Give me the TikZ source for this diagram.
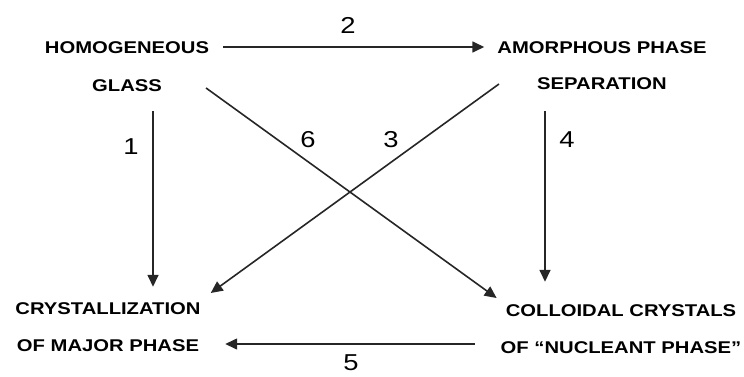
\documentclass[tikz,border=0pt]{standalone}
\usepackage{fontspec}
\setmainfont{Liberation Sans}[FakeStretch=1.19]
\usetikzlibrary{arrows.meta,calc}
\begin{document}
\begin{tikzpicture}[x=1pt,y=1pt,
  lbl/.style={inner sep=0pt,font=\fontsize{17}{20}\selectfont\bfseries},
  num/.style={inner sep=0pt,font=\fontsize{23}{26}\selectfont},
  arr/.style={line width=1.6pt,draw=black!85,-{Triangle[length=12pt,width=11pt]}}]
\useasboundingbox (0,0) rectangle (744,376);
% nodes
\node[lbl] (hgA) at (127,328) {HOMOGENEOUS};
\node[lbl] (hgB) at (127,290) {GLASS};
\node[lbl] (apA) at (602,328) {AMORPHOUS PHASE};
\node[lbl] (apB) at (602,292) {SEPARATION};
\node[lbl] (crA) at (108,67) {CRYSTALLIZATION};
\node[lbl] (crB) at (108,30) {OF MAJOR PHASE};
\node[lbl] (coA) at (621,65) {COLLOIDAL CRYSTALS};
\node[lbl] (coB) at (621,28) {OF ``NUCLEANT PHASE''};
% labels
\node[num] (n1) at (131,229) {1};
\node[num] (n2) at (348,351) {2};
\node[num] (n3) at (391,236) {3};
\node[num] (n4) at (567,236) {4};
\node[num] (n5) at (351,13) {5};
\node[num] (n6) at (308,236) {6};
% connectors
\draw[arr] ($(hgA.east)+(14,1)$) -- ($(apA.west)+(-13,1)$);
\draw[arr] ($(hgB.south)+(26,-19)$) -- ($(crA.north)+(45,16)$);
\draw[arr] ($(apB.south)+(-57,-21)$) -- ($(coA.north)+(-76,23)$);
\draw[arr] ($(hgB.east)+(44,-2)$) -- ($(coA.west)+(-9,13)$);
\draw[arr] ($(apB.west)+(-38,0)$) -- ($(crA.east)+(10,16)$);
\draw[arr] ($(coB.west)+(-26,4)$) -- ($(crB.east)+(26,2)$);
\end{tikzpicture}
\end{document}
